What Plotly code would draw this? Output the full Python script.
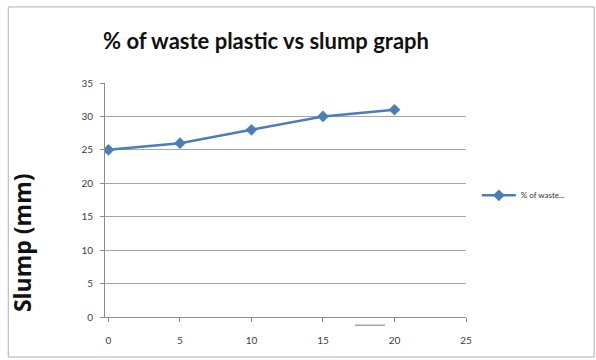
import plotly.graph_objects as go

# Percentage of waste plastic replacing aggregate, and the measured slump
waste_pct = [0, 5, 10, 15, 20]
slump_mm = [25, 26, 28, 30, 31]
x_ticks = [0, 5, 10, 15, 20, 25]
y_ticks = [0, 5, 10, 15, 20, 25, 30, 35]

fig = go.Figure()
fig.add_trace(go.Scatter(
    x=waste_pct, y=slump_mm,
    mode="lines+markers",
    name="% of waste...",
    line=dict(color="#4a7ebb", width=2.5),
    marker=dict(symbol="diamond", size=9, color="#4a7ebb"),
))

fig.update_layout(
    width=596, height=360,
    margin=dict(l=105, r=130, t=83, b=43),
    paper_bgcolor="white", plot_bgcolor="white",
    font=dict(family="Lato, Open Sans, sans-serif", color="#404040"),
    title=dict(
        text="<b>% of waste plastic vs slump graph</b>",
        x=266 / 596, xref="container", xanchor="center",
        y=1 - 41 / 360, yanchor="middle",
        font=dict(size=22, color="#111111", family="Lato, sans-serif"),
    ),
    showlegend=True,
    legend=dict(
        x=1.03, y=0.52, xanchor="left", yanchor="middle",
        font=dict(size=8, color="#333333"),
        bgcolor="rgba(0,0,0,0)", itemwidth=34,
    ),
    xaxis=dict(
        range=[-0.24, 25], tickvals=x_ticks, ticktext=[str(v) for v in x_ticks],
        showgrid=False, zeroline=False,
        showline=True, linecolor="#8c8c8c", linewidth=1,
        ticks="outside", ticklen=4, tickcolor="#8c8c8c",
        ticklabelstandoff=10,
        tickfont=dict(size=10, color="#404040"),
    ),
    yaxis=dict(
        range=[0, 35], tickvals=y_ticks, ticktext=[str(v) for v in y_ticks],
        showgrid=True, gridcolor="#a6a6a6", gridwidth=1, zeroline=False,
        showline=True, linecolor="#8c8c8c", linewidth=1,
        ticks="outside", ticklen=4, tickcolor="#8c8c8c",
        ticklabelstandoff=5,
        tickfont=dict(size=10, color="#404040"),
    ),
    annotations=[dict(
        text="<b>Slump (mm)</b>", textangle=-90,
        xref="paper", yref="paper", x=-0.23, y=0.32,
        xanchor="center", yanchor="middle", showarrow=False,
        font=dict(size=23, color="#111111", family="Open Sans, sans-serif"),
    )],
    shapes=[
        # chart frame
        dict(type="rect", xref="paper", yref="paper",
             x0=-0.268, x1=1.355, y0=-0.171, y1=1.325,
             line=dict(color="#b0b0b0", width=1)),
        # small axis-title stub under the x axis
        dict(type="line", xref="paper", yref="paper",
             x0=0.6925, x1=0.7756, y0=-0.035, y1=-0.035,
             line=dict(color="#777777", width=1)),
    ],
)

fig.write_html("out.html")
